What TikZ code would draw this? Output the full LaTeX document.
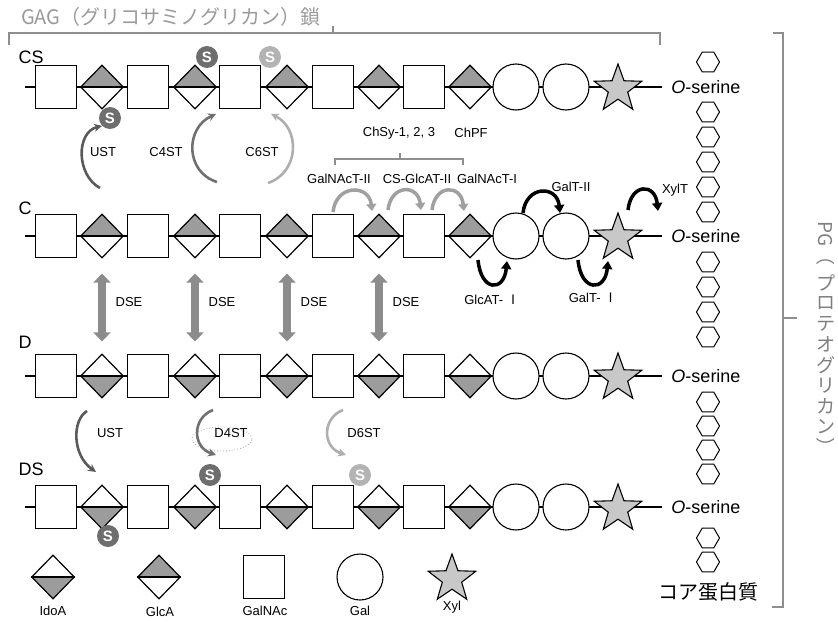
\documentclass[tikz,border=0pt]{standalone}
\usepackage{fontspec}
\setmainfont{Liberation Sans}
\newfontfamily\cjk{Noto Sans CJK JP}
\usetikzlibrary{shapes.geometric,arrows.meta}
\definecolor{dfill}{HTML}{9C9C9C}
\definecolor{starfill}{HTML}{C8C8C8}
\definecolor{sdarkc}{HTML}{6E6E6E}
\definecolor{slightc}{HTML}{B3B3B3}
\definecolor{ustc}{HTML}{5A5A5A}
\definecolor{c4c}{HTML}{707070}
\definecolor{c6c}{HTML}{AEAEAE}
\definecolor{garrc}{HTML}{A0A0A0}
\definecolor{dsec}{HTML}{8C8C8C}
\definecolor{brkc}{HTML}{8E8E8E}
\definecolor{titlec}{HTML}{9A9A9A}
\definecolor{pgc}{HTML}{7F7F7F}
\newcommand\gagrow[3]{%
  \draw[bb] (25,#2) coordinate (#1L) -- (662,#2) coordinate (#1R);
  \foreach \i/\xx in {1/56,2/148,3/240,4/333,5/424}{\node[galnac] (#1q\i) at (\xx,#2) {};}
  \foreach \i/\xx in {1/102,2/195,3/287,4/379,5/470}{\node[#3] (#1d\i) at (\xx,#2) {}; \draw[midline] (#1d\i.west) -- (#1d\i.east);}
  \node[gal] (#1c1) at (516,#2) {};
  \node[gal] (#1c2) at (566,#2) {};
  \node[xyl] (#1x) at (618,#2+2) {};
  \node[serine] (#1o) at (706,#2) {\textit{O}-serine};
}
\begin{document}
\begin{tikzpicture}[x=1pt,y=-1pt,
  bb/.style={line width=1.2pt, black},
  midline/.style={line width=1.8pt, black},
  dia/.style={diamond, draw, line width=1.2pt, fill=white, minimum width=43pt, minimum height=44pt, inner sep=0pt},
  glca/.style={dia, path picture={\fill[dfill] (path picture bounding box.west) -- (path picture bounding box.north) -- (path picture bounding box.east) -- cycle;}},
  idoa/.style={dia, path picture={\fill[dfill] (path picture bounding box.west) -- (path picture bounding box.south) -- (path picture bounding box.east) -- cycle;}},
  galnac/.style={rectangle, draw, line width=1.3pt, fill=white, minimum width=41pt, minimum height=43pt, inner sep=0pt},
  gal/.style={circle, draw, line width=1.1pt, fill=white, minimum size=46pt, inner sep=0pt},
  xyl/.style={star, star points=5, star point ratio=2.45, draw, line width=1.1pt, fill=starfill, minimum size=50pt, inner sep=0pt},
  hex/.style={regular polygon, regular polygon sides=6, draw, line width=1pt, minimum size=23pt, inner sep=0pt},
  sdark/.style={circle, fill=sdarkc, text=white, font=\bfseries\fontsize{15}{15}\selectfont, inner sep=0pt, minimum size=22pt},
  slight/.style={sdark, fill=slightc},
  lbl/.style={font=\fontsize{13}{15}\selectfont},
  rowlbl/.style={font=\fontsize{18}{20}\selectfont, anchor=west},
  serine/.style={font=\fontsize{18}{20}\selectfont},
  sarr/.style={line width=2.6pt, -{Stealth[length=8pt,width=8pt]}},
  garr/.style={line width=3.5pt, color=garrc, -{Triangle[length=7pt,width=10pt]}},
  karr/.style={line width=3.5pt, black, -{Triangle[length=8pt,width=10pt]}},
  dse/.style={line width=7.5pt, color=dsec, {Triangle[length=9pt,width=17pt]}-{Triangle[length=9pt,width=17pt]}},
  brk/.style={line width=2pt, color=brkc},
  pgtxt/.style={font=\cjk\fontsize{19}{19}\selectfont, text=pgc, inner sep=0pt}
]
\useasboundingbox (0,0) rectangle (838,621);

% title and bracket
\node[anchor=west, text=titlec, font=\cjk\fontsize{20}{22}\selectfont, inner sep=0pt] (title) at (21,17) {GAG（グリコサミノグリカン）鎖};
\draw[brk] (9,45) -- (9,33) -- (660,33) -- (660,45);
\draw[brk] (333,33) -- (333,26);

% row labels
\node[rowlbl] (lCS) at (15,57) {CS};
\node[rowlbl] (lC) at (15,208) {C};
\node[rowlbl] (lD) at (15,342) {D};
\node[rowlbl] (lDS) at (15,469) {DS};

% chains
\gagrow{CS}{87}{glca}
\gagrow{C}{236}{glca}
\gagrow{D}{376}{idoa}
\gagrow{DS}{507}{idoa}

% core protein hexagons
\foreach \i/\yy in {1/62,2/112,3/137,4/162,5/187,6/212,7/262,8/287,9/312,10/337,11/402,12/426,13/450,14/474,15/538,16/562}{\node[hex] (h\i) at (708,\yy) {};}
\node[font=\cjk\fontsize{20}{22}\selectfont] (core) at (708,592) {コア蛋白質};

% right bracket and PG text
\draw[brk] (773,33) -- (783,33) -- (783,607) -- (772,607);
\draw[brk] (783,318) -- (797,318);
\node[pgtxt, rotate=-90, anchor=west] (pg0) at (826,221) {PG（};
\foreach \i/\ch in {1/プ,2/ロ,3/テ,4/オ,5/グ,6/リ,7/カ,8/ン}{\node[pgtxt] (pg\i) at (826,{283+(\i-1)*20.5}) {\ch};}
\node[pgtxt, rotate=-90, anchor=west] (pg9) at (826,437) {）};

% sulfate groups
\node[sdark] (sA) at (110,118) {S};
\node[sdark] (sB) at (207,57) {S};
\node[slight] (sC) at (270,57) {S};
\node[sdark] (sD) at (210,475) {S};
\node[slight] (sE) at (360,475) {S};
\node[sdark] (sF) at (108,536) {S};

% CS <- C sulfotransferases
\coordinate (u1s) at (100,188);
\coordinate (c4s) at (217,182);
\coordinate (c4e) at (216,114);
\coordinate (c6s) at (268,183);
\coordinate (c6e) at (271,114);
\draw[sarr, color=ustc] (u1s) .. controls (76,175) and (76,132) .. (sA.south west);
\draw[sarr, color=c4c] (c4s) .. controls (185,172) and (185,128) .. (c4e);
\draw[sarr, color=c6c] (c6s) .. controls (300,172) and (300,128) .. (c6e);
\node[lbl] (tUST1) at (103,152) {UST};
\node[lbl] (tC4ST) at (166,152) {C4ST};
\node[lbl] (tC6ST) at (262,152) {C6ST};

% biosynthesis enzymes
\node[lbl] (tChSy) at (399,133) {ChSy-1, 2, 3};
\node[lbl] (tChPF) at (471,133) {ChPF};
\draw[brk, line width=1.6pt] (335,165) -- (335,159) -- (463,159) -- (463,165);
\draw[brk, line width=1.6pt] (400,159) -- (400,153);
\node[lbl] (tGNT2) at (339,179) {GalNAcT-II};
\node[lbl] (tGAT2) at (417,179) {CS-GlcAT-II};
\node[lbl] (tGNT1) at (487,179) {GalNAcT-I};
\coordinate (a1s) at (333,212); \coordinate (a1e) at (372,211);
\coordinate (a2s) at (388,210); \coordinate (a2e) at (421,210);
\coordinate (a3s) at (432,210); \coordinate (a3e) at (464,211);
\draw[garr] (a1s) .. controls (336,184) and (369,184) .. (a1e);
\draw[garr] (a2s) .. controls (391,184) and (418,184) .. (a2e);
\draw[garr] (a3s) .. controls (435,184) and (461,184) .. (a3e);

\coordinate (b1s) at (523,213); \coordinate (b1e) at (560,213);
\coordinate (b2s) at (628,210); \coordinate (b2e) at (658,211);
\coordinate (b3s) at (478,260); \coordinate (b3e) at (507,261);
\coordinate (b4s) at (578,260); \coordinate (b4e) at (608,261);
\draw[karr] (b1s) .. controls (526,185) and (557,185) .. (b1e);
\draw[karr] (b2s) .. controls (631,183) and (655,183) .. (b2e);
\draw[karr] (b3s) .. controls (481,292) and (504,292) .. (b3e);
\draw[karr] (b4s) .. controls (581,292) and (605,292) .. (b4e);
\node[lbl] (tGalT2) at (571,187) {GalT-II};
\node[lbl] (tXylT) at (675,190) {XylT};
\node[lbl] (tGlcAT1) at (492,300) {GlcAT- {\cjk Ⅰ}};
\node[lbl] (tGalT1) at (593,298) {GalT- {\cjk Ⅰ}};

% DSE epimerase
\foreach \i/\xx in {1/102,2/195,3/287,4/379}{
  \draw[dse, shorten <=15pt, shorten >=12pt] (Cd\i.south) -- (Dd\i.north);
  \node[lbl] (tDSE\i) at (\xx+27,302) {DSE};
}

% D -> DS sulfotransferases
\draw[dotted, color=slightc, line width=0.9pt] (222,439) ellipse [x radius=30pt, y radius=12pt];
\coordinate (u2s) at (87,411); \coordinate (u2e) at (96,472);
\coordinate (d4s) at (213,410); \coordinate (d4e) at (216,455);
\coordinate (d6s) at (343,410); \coordinate (d6e) at (346,455);
\draw[sarr, color=ustc] (u2s) .. controls (72,420) and (72,455) .. (u2e);
\draw[sarr, color=c4c] (d4s) .. controls (192,418) and (192,447) .. (d4e);
\draw[sarr, color=c6c] (d6s) .. controls (322,418) and (322,447) .. (d6e);
\node[lbl] (tUST2) at (110,433) {UST};
\node[lbl] (tD4ST) at (231,433) {D4ST};
\node[lbl] (tD6ST) at (364,433) {D6ST};

% legend
\node[idoa] (lgI) at (53,577) {}; \draw[midline] (lgI.west) -- (lgI.east);
\node[glca] (lgG) at (159,577) {}; \draw[midline] (lgG.west) -- (lgG.east);
\node[galnac] (lgN) at (264,577) {};
\node[gal] (lgA) at (360,577) {};
\node[xyl] (lgX) at (452,579) {};
\node[lbl] (tIdoA) at (53,611) {IdoA};
\node[lbl] (tGlcA) at (160,612) {GlcA};
\node[lbl] (tGalNAc) at (265,611) {GalNAc};
\node[lbl] (tGal) at (360,611) {Gal};
\node[lbl] (tXyl) at (452,607) {Xyl};
\end{tikzpicture}
\end{document}
